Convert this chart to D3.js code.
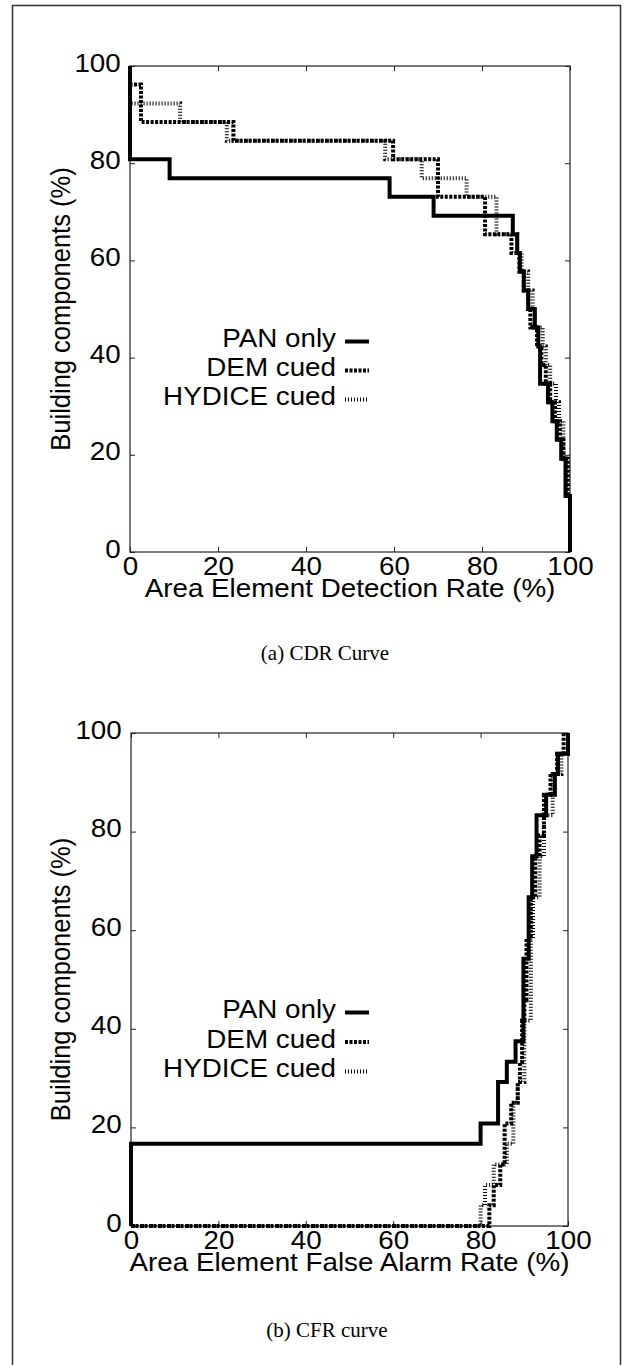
<!DOCTYPE html>
<html>
<head>
<meta charset="utf-8">
<script src="https://cdn.jsdelivr.net/npm/d3@7"></script>
<style>
  body { margin: 0; background: #fff; }
  text { font-family: "Liberation Sans", Arial, Helvetica, sans-serif; fill: #000; }
  .caption { font-family: "Liberation Serif", "Times New Roman", serif; }
</style>
</head>
<body>
<div id="chart"></div>
<script>
// tick values shared by both panels
let tickValues = [0, 20, 40, 60, 80, 100];
let seriesNames = ["PAN only", "DEM cued", "HYDICE cued"];

// (a) CDR curve (step points)
let cdrPanX = [0, 0, 9, 59, 69, 87, 88, 88.6, 89.5, 90.5, 92, 92.8, 93.2, 95, 96, 97, 98, 99, 100];
let cdrPanY = [100, 80.8, 76.9, 73.1, 69.2, 65.4, 61.5, 57.7, 53.8, 50, 46.2, 42.3, 34.6, 30.8, 26.9, 23.1, 19.2, 11.5, 0];
let cdrDemX = [0, 0, 2.5, 23.5, 59.8, 70, 80.7, 86.7, 88.5, 89.5, 90.5, 91, 92.5, 93.5, 94.5, 95.5, 96.6, 97.7, 98.5, 99.5, 100];
let cdrDemY = [100, 96.2, 88.5, 84.6, 80.8, 73.1, 65.4, 61.5, 57.7, 53.8, 50, 46.2, 42.3, 38.5, 34.6, 30.8, 26.9, 23.1, 19.2, 11.5, 0];
let cdrHydX = [0, 0, 11.4, 22, 58, 66.3, 76.5, 83.3, 88, 89, 90.5, 91.5, 92, 93.8, 94.5, 95.5, 96.8, 97.5, 98.5, 99, 100];
let cdrHydY = [100, 92.3, 88.5, 84.6, 80.8, 76.9, 73.1, 65.4, 61.5, 57.7, 53.8, 50, 46.2, 42.3, 38.5, 34.6, 30.8, 26.9, 19.2, 11.5, 0];

// (b) CFR curve
let cfrPanX = [0, 0, 80, 84, 86, 88, 89.8, 91, 91.8, 92.8, 95, 97, 97.7, 100];
let cfrPanY = [0, 16.7, 20.8, 29.2, 33.3, 37.5, 54.2, 66.7, 75, 83.3, 87.5, 91.7, 95.8, 100];
let cfrDemX = [0, 82, 83, 84.5, 85.5, 87, 88.5, 89, 89.5, 90, 90.5, 91.5, 92.5, 93.5, 94.5, 96, 97.5, 99];
let cfrDemY = [0, 4.2, 8.3, 12.5, 20.8, 25, 29.2, 33.3, 41.7, 45.8, 58.3, 66.7, 75, 79.2, 87.5, 91.7, 95.8, 100];
let cfrHydX = [0, 80, 81, 83, 86, 87.5, 88.5, 90, 91.5, 92, 93.5, 94.5, 96.5, 98.5, 100];
let cfrHydY = [0, 4.2, 8.3, 12.5, 16.7, 25, 29.2, 41.7, 58.3, 66.7, 75, 83.3, 91.7, 95.8, 100];

//line styles for the three series
let styles = [
    {width: 4, dash: null},
    {width: 4, dash: "3,1.5"},
    {width: 4, dash: "1,2"}
];

let width = 633;
let height = 1365;
let fontSize = 25.5;
let stretch = 1.09; // the figure's lettering is a little wider than plain Arial

let svg = d3.select('#chart')
    .append('svg')
    .attr('width', width)
    .attr('height', height);

//outer box round the whole figure
svg.append("rect")
    .attr("x", 12.5).attr("y", 5.5)
    .attr("width", 608).attr("height", 1370)
    .attr("fill", "none")
    .attr("stroke", "#333")
    .attr("stroke-width", 1.5);

//text placed at (x, y) and widened horizontally
let addText = function (g, x, y, anchor, str) {
    return g.append("text")
        .attr("transform", `translate(${x},${y}) scale(${stretch},1)`)
        .attr("text-anchor", anchor)
        .attr("font-size", fontSize)
        .text(str);
};

let drawPanel = function (p) {
    let x = d3.scaleLinear().domain([0, 100]).range([p.left, p.right]);
    let y = d3.scaleLinear().domain([0, 100]).range([p.bottom, p.top]);
    let g = svg.append("g");

    //frame
    g.append("rect")
        .attr("x", p.left).attr("y", p.top)
        .attr("width", p.right - p.left).attr("height", p.bottom - p.top)
        .attr("fill", "none").attr("stroke", "#222").attr("stroke-width", 1.2);

    //inward ticks on all sides, labels only left and bottom
    let bottom = g.append("g").attr("transform", `translate(0,${p.bottom})`)
        .call(d3.axisBottom(x).tickValues(tickValues).tickSize(-5).tickPadding(5));
    let left = g.append("g").attr("transform", `translate(${p.left},0)`)
        .call(d3.axisLeft(y).tickValues(tickValues).tickSize(-5).tickPadding(8.5));
    g.append("g").attr("transform", `translate(0,${p.top})`)
        .call(d3.axisTop(x).tickValues(tickValues).tickSize(-5).tickFormat(""));
    g.append("g").attr("transform", `translate(${p.right},0)`)
        .call(d3.axisRight(y).tickValues(tickValues).tickSize(-5).tickFormat(""));

    g.selectAll(".domain").remove();
    g.selectAll(".tick line").attr("stroke", "#222").attr("stroke-width", 1);
    bottom.selectAll("text")
        .attr("font-size", fontSize).attr("font-family", null)
        .attr("dy", "0.71em")
        .attr("transform", `scale(${stretch},1)`);
    left.selectAll("text")
        .attr("font-size", fontSize).attr("font-family", null)
        .attr("dy", "0.2em")
        .attr("transform", `scale(${stretch},1)`);

    //axis titles
    addText(g, (p.left + p.right) / 2, p.bottom + 45, "middle", p.xTitle);
    g.append("text")
        .attr("transform", `translate(70,${(p.top + p.bottom) / 2}) rotate(-90) scale(1,${stretch})`)
        .attr("text-anchor", "middle").attr("font-size", fontSize)
        .text("Building components (%)");

    //step curves, PAN drawn last so it sits on top
    let line = d3.line()
        .x(d => x(d[0]))
        .y(d => y(d[1]))
        .curve(d3.curveStepAfter);

    for (let i = p.series.length - 1; i >= 0; i--) {
        let s = p.series[i];
        g.append("path")
            .datum(d3.zip(s.x, s.y))
            .attr("d", line)
            .attr("fill", "none")
            .attr("stroke", "#000")
            .attr("stroke-width", styles[i].width)
            .attr("stroke-dasharray", styles[i].dash);
    }

    //legend
    seriesNames.forEach(function (name, i) {
        let ly = p.top + p.legendTop + i * p.legendStep;
        addText(g, 336, ly, "end", name);
        g.append("line")
            .attr("x1", 345).attr("x2", 369)
            .attr("y1", ly - 5.5).attr("y2", ly - 5.5)
            .attr("stroke", "#000")
            .attr("stroke-width", styles[i].width)
            .attr("stroke-dasharray", styles[i].dash);
    });

    //caption under the panel
    g.append("text")
        .attr("class", "caption")
        .attr("x", p.capX).attr("y", p.capY)
        .attr("text-anchor", "middle").attr("font-size", 21)
        .text(p.caption);
};

drawPanel({
    left: 130, right: 570, top: 66, bottom: 552,
    xTitle: "Area Element Detection Rate (%)",
    legendTop: 281, legendStep: 29,
    caption: "(a) CDR Curve", capX: 325, capY: 660,
    series: [
        {x: cdrPanX, y: cdrPanY},
        {x: cdrDemX, y: cdrDemY},
        {x: cdrHydX, y: cdrHydY}
    ]
});

drawPanel({
    left: 131, right: 568, top: 733, bottom: 1226,
    xTitle: "Area Element False Alarm Rate (%)",
    legendTop: 285, legendStep: 29.5,
    caption: "(b) CFR curve", capX: 327, capY: 1337,
    series: [
        {x: cfrPanX, y: cfrPanY},
        {x: cfrDemX, y: cfrDemY},
        {x: cfrHydX, y: cfrHydY}
    ]
});
</script>
</body>
</html>
